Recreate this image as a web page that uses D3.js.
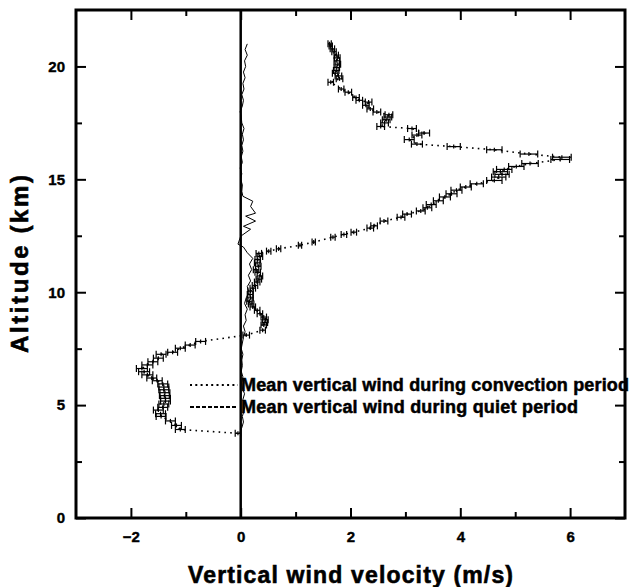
<!DOCTYPE html>
<html><head><meta charset="utf-8">
<script src="https://cdn.jsdelivr.net/npm/d3@7"></script>
<style>body{margin:0;background:#fff}svg{display:block}</style>
</head><body>
<svg id="c" width="633" height="587"></svg>
<script>
// ---- data ----
// convection period: altitude (km), mean vertical wind (m/s), error half-width (m/s)
const convAlt = [21.0,20.9,20.78,20.65,20.5,20.38,20.25,20.1,19.95,19.82,19.7,19.58,19.45,19.3,19.0,18.86,18.62,18.5,18.42,18.28,18.12,17.98,17.86,17.76,17.64,17.5,17.34,17.25,17.05,16.96,16.76,16.56,16.45,16.31,16.12,15.98,15.88,15.7,15.57,15.44,15.34,15.22,15.1,14.95,14.8,14.66,14.52,14.36,14.22,14.05,13.88,13.74,13.6,13.46,13.32,13.15,12.94,12.84,12.66,12.56,12.44,12.22,12.08,11.92,11.82,11.72,11.58,11.45,11.3,11.15,11.0,10.88,10.72,10.58,10.45,10.3,10.18,10.05,9.9,9.75,9.6,9.48,9.35,9.2,9.05,8.9,8.78,8.66,8.55,8.32,8.1,7.82,7.66,7.52,7.34,7.25,7.08,6.92,6.78,6.62,6.48,6.34,6.2,6.08,5.94,5.8,5.68,5.55,5.42,5.3,5.18,5.05,4.9,4.78,4.62,4.5,4.3,4.1,3.92,3.75];
const convVel = [1.62,1.64,1.67,1.70,1.74,1.76,1.75,1.77,1.75,1.74,1.72,1.78,1.80,1.64,1.83,1.96,2.10,2.16,2.33,2.28,2.36,2.48,2.70,2.68,2.65,2.62,2.55,3.12,3.34,3.21,3.07,3.21,3.88,4.62,5.25,5.85,5.82,5.27,5.02,4.80,4.73,4.76,4.70,4.62,4.30,4.10,3.93,3.84,3.72,3.60,3.47,3.40,3.28,3.03,2.92,2.61,2.43,2.36,2.06,1.88,1.68,1.33,1.08,0.69,0.51,0.33,0.35,0.31,0.30,0.32,0.28,0.31,0.35,0.33,0.30,0.26,0.22,0.18,0.17,0.18,0.16,0.19,0.22,0.30,0.35,0.42,0.45,0.44,0.42,0.40,0.10,-0.73,-0.92,-1.10,-1.24,-1.45,-1.50,-1.60,-1.70,-1.80,-1.76,-1.70,-1.62,-1.52,-1.42,-1.40,-1.40,-1.38,-1.39,-1.37,-1.37,-1.40,-1.42,-1.50,-1.46,-1.45,-1.28,-1.17,-1.10,-0.05];
const convErr = [0.03,0.03,0.04,0.04,0.04,0.05,0.05,0.05,0.05,0.05,0.05,0.06,0.06,0.05,0.05,0.06,0.06,0.06,0.06,0.06,0.06,0.07,0.07,0.07,0.07,0.07,0.07,0.08,0.10,0.09,0.09,0.10,0.12,0.14,0.16,0.17,0.17,0.15,0.14,0.14,0.13,0.13,0.13,0.14,0.12,0.10,0.10,0.10,0.10,0.09,0.09,0.08,0.08,0.08,0.07,0.07,0.06,0.06,0.05,0.05,0.04,0.03,0.03,0.04,0.04,0.05,0.05,0.05,0.05,0.05,0.05,0.05,0.05,0.05,0.05,0.05,0.05,0.05,0.05,0.05,0.05,0.05,0.05,0.05,0.05,0.05,0.05,0.05,0.05,0.05,0.06,0.09,0.09,0.09,0.09,0.09,0.09,0.09,0.10,0.10,0.10,0.10,0.09,0.09,0.09,0.09,0.09,0.09,0.09,0.09,0.09,0.09,0.09,0.09,0.09,0.09,0.09,0.09,0.09,0.05];

// quiet period: altitude (km), mean vertical wind (m/s)
const quietAlt = [3.75,4.0,4.25,4.5,4.75,5.0,5.25,5.5,5.75,6.0,6.25,6.5,6.75,7.0,7.25,7.5,7.75,8.0,8.25,8.5,8.75,9.0,9.25,9.5,9.75,10.0,10.25,10.5,10.75,11.0,11.25,11.5,11.75,12.0,12.13,12.48,12.79,12.92,13.15,13.37,13.5,13.8,14.03,14.25,14.47,14.75,15.0,15.25,15.5,15.75,16.0,16.25,16.5,16.75,17.0,17.25,17.5,17.75,18.0,18.25,18.5,18.75,19.0,19.25,19.5,19.75,20.0,20.25,20.5,20.75,21.0];
const quietVel = [-0.02,0.02,0.05,0.03,0.06,0.08,0.04,0.07,0.03,0.02,0.04,0.01,0.03,0.02,0.04,0.01,0.03,0.05,0.08,0.05,0.10,0.08,0.12,0.07,0.10,0.15,0.12,0.18,0.14,0.20,0.16,0.22,0.12,0.05,-0.05,0.00,0.18,0.05,0.27,0.09,0.27,0.18,0.22,0.04,0.02,0.03,0.00,0.02,-0.01,0.03,0.01,0.04,0.02,0.05,0.03,0.06,0.02,0.01,-0.01,0.03,0.05,0.02,0.06,0.04,0.08,0.05,0.09,0.07,0.12,0.08,0.12];

const xMajor = [-2,0,2,4,6];
const xMinor = [-1,1,3,5];
const yMajor = [0,5,10,15,20];
const yMinor = [2.5,7.5,12.5,17.5];
const legendLabels = ["Mean vertical wind during convection period","Mean vertical wind during quiet period"];
const xTitle = "Vertical wind velocity (m/s)";
const yTitle = "Altitude (km)";

// ---- drawing ----
const L = 76, R = 625, T = 10, B = 518;
const svg = d3.select("#c");
const font = "'Liberation Sans', Arial, Helvetica, sans-serif";
const x = d3.scaleLinear().domain([-3,7]).range([L,R]);
const y = d3.scaleLinear().domain([0,22.5]).range([B,T]);

function styleAxis(g){
  g.select(".domain").remove();
  g.selectAll(".tick line").attr("stroke","#000").attr("stroke-width",2);
  g.selectAll(".tick text").attr("fill","#000").attr("font-family",font)
   .attr("font-weight","bold").attr("font-size",15)
   .attr("stroke","#000").attr("stroke-width",0.4);
}
// bottom
svg.append("g").attr("transform",`translate(0,${B})`)
  .call(d3.axisBottom(x).tickValues(xMajor).tickSize(-10).tickPadding(13).tickFormat(d3.format("d"))).call(styleAxis);
svg.append("g").attr("transform",`translate(0,${B})`)
  .call(d3.axisBottom(x).tickValues(xMinor).tickSize(-6).tickFormat("")).call(styleAxis);
// top
svg.append("g").attr("transform",`translate(0,${T})`)
  .call(d3.axisTop(x).tickValues(xMajor).tickSize(-10).tickFormat("")).call(styleAxis);
svg.append("g").attr("transform",`translate(0,${T})`)
  .call(d3.axisTop(x).tickValues(xMinor).tickSize(-6).tickFormat("")).call(styleAxis);
// left
svg.append("g").attr("transform",`translate(${L},0)`)
  .call(d3.axisLeft(y).tickValues(yMajor).tickSize(-10).tickPadding(11).tickFormat(d3.format("d"))).call(styleAxis);
svg.append("g").attr("transform",`translate(${L},0)`)
  .call(d3.axisLeft(y).tickValues(yMinor).tickSize(-6).tickFormat("")).call(styleAxis);
// right
svg.append("g").attr("transform",`translate(${R},0)`)
  .call(d3.axisRight(y).tickValues(yMajor).tickSize(-10).tickFormat("")).call(styleAxis);
svg.append("g").attr("transform",`translate(${R},0)`)
  .call(d3.axisRight(y).tickValues(yMinor).tickSize(-6).tickFormat("")).call(styleAxis);

// frame
svg.append("rect").attr("x",L).attr("y",T).attr("width",R-L).attr("height",B-T)
  .attr("fill","none").attr("stroke","#000").attr("stroke-width",3);
// zero line
svg.append("line").attr("x1",x(0)).attr("x2",x(0)).attr("y1",T).attr("y2",B)
  .attr("stroke","#000").attr("stroke-width",2.5);

// quiet line
const quiet = quietAlt.map((h,i)=>({h, v:quietVel[i]}));
svg.append("path").datum(quiet)
  .attr("d", d3.line().x(d=>x(d.v)).y(d=>y(d.h)))
  .attr("fill","none").attr("stroke","#000").attr("stroke-width",1);

// convection dotted line
const conv = convAlt.map((h,i)=>({h, v:convVel[i], e:convErr[i]}));
svg.append("path").datum(conv)
  .attr("d", d3.line().x(d=>x(d.v)).y(d=>y(d.h)))
  .attr("fill","none").attr("stroke","#000").attr("stroke-width",1.6)
  .attr("stroke-dasharray","1.6,4.2");

// error bars
const eb = svg.append("g").attr("stroke","#000").attr("stroke-width",1.2);
conv.forEach(d=>{
  const cy = y(d.h), x0 = x(d.v-d.e), x1 = x(d.v+d.e), xc = x(d.v);
  eb.append("line").attr("x1",x0).attr("x2",x1).attr("y1",cy).attr("y2",cy);
  eb.append("line").attr("x1",x0).attr("x2",x0).attr("y1",cy-3.5).attr("y2",cy+3.5);
  eb.append("line").attr("x1",x1).attr("x2",x1).attr("y1",cy-3.5).attr("y2",cy+3.5);
  eb.append("line").attr("x1",xc).attr("x2",xc).attr("y1",cy-2).attr("y2",cy+2);
});

// legend
const lg = svg.append("g");
const dashes = ["2,3.3","4,2"];
legendLabels.forEach((t,i)=>{
  const ly = 385 + i*22;
  lg.append("line").attr("x1",190).attr("x2",238).attr("y1",ly).attr("y2",ly)
    .attr("stroke","#000").attr("stroke-width",2.2).attr("stroke-dasharray",dashes[i]);
  lg.append("text").attr("x",241).attr("y",ly+6).text(t)
    .attr("font-family",font).attr("font-weight","bold").attr("font-size",18)
    .attr("stroke","#000").attr("stroke-width",0.5)
    .attr("textLength", i===0?388:337).attr("lengthAdjust","spacing");
});

// axis titles
svg.append("text").attr("x",(L+R)/2).attr("y",583).attr("text-anchor","middle")
  .attr("font-family",font).attr("font-weight","bold").attr("font-size",23)
  .attr("stroke","#000").attr("stroke-width",0.6)
  .attr("textLength",325).attr("lengthAdjust","spacing").text(xTitle);
svg.append("text").attr("transform",`translate(28,${(T+B)/2}) rotate(-90)`).attr("text-anchor","middle")
  .attr("font-family",font).attr("font-weight","bold").attr("font-size",24)
  .attr("stroke","#000").attr("stroke-width",0.6)
  .attr("textLength",178).attr("lengthAdjust","spacing").text(yTitle);
</script>
</body></html>
